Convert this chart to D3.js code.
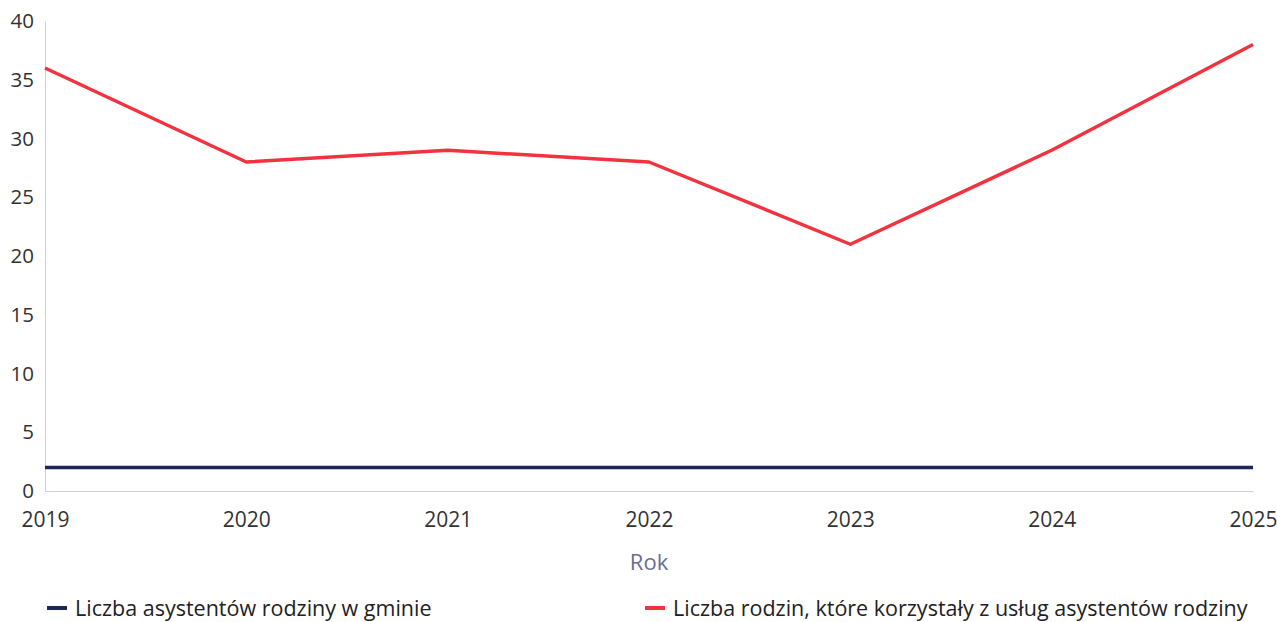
<!DOCTYPE html>
<html><head><meta charset="utf-8">
<script src="https://cdn.jsdelivr.net/npm/d3@7"></script>
<style>body{margin:0;background:#fff;} text{font-family:"Open Sans",sans-serif;}</style>
</head><body>
<svg id="c" width="1277" height="622"></svg>
<script>
const years = [2019, 2020, 2021, 2022, 2023, 2024, 2025];
const asystenci = [2, 2, 2, 2, 2, 2, 2];
const rodziny = [36, 28, 29, 28, 21, 29, 38];
const yTicks = [0, 5, 10, 15, 20, 25, 30, 35, 40];
const seriesNames = ["Liczba asystentów rodziny w gminie", "Liczba rodzin, które korzystały z usług asystentów rodziny"];
const seriesColors = ["#1c2857", "#f2333f"];

const svg = d3.select("#c");
const m = {l: 45, r: 24, t: 21, b: 131};
const W = 1277, H = 622;
const x = d3.scaleLinear().domain([2019, 2025]).range([m.l, W - m.r]);
const y = d3.scaleLinear().domain([0, 40]).range([H - m.b, m.t]);

// axes
const yAx = svg.append("g").attr("transform", `translate(${m.l},0)`)
  .call(d3.axisLeft(y).tickValues(yTicks).tickSize(0).tickPadding(11));
yAx.select(".domain").attr("stroke", "#d0d0d0");
yAx.selectAll("text").attr("font-size", 20.5).attr("fill", "#333");

const xAx = svg.append("g").attr("transform", `translate(0,${H - m.b})`)
  .call(d3.axisBottom(x).tickValues(years).tickFormat(d3.format("d")).tickSize(0).tickPadding(21));
xAx.select(".domain").attr("stroke", "#d0d0d0");
xAx.selectAll("text").attr("font-size", 21).attr("fill", "#333");

svg.append("text").attr("x", (m.l + W - m.r) / 2).attr("y", 570)
  .attr("text-anchor", "middle").attr("font-size", 22).attr("fill", "#6a6e98").text("Rok");

const line = d3.line().x((d, i) => x(years[i])).y(d => y(d));
[asystenci, rodziny].forEach((s, k) => {
  svg.append("path").datum(s).attr("d", line).attr("fill", "none")
    .attr("stroke", seriesColors[k]).attr("stroke-width", 3.5).attr("stroke-linejoin", "round");
});

// legend
const legX = [47, 645];
seriesNames.forEach((n, k) => {
  svg.append("rect").attr("x", legX[k]).attr("y", 606).attr("width", 20).attr("height", 4).attr("fill", seriesColors[k]);
  svg.append("text").attr("x", legX[k] + 28).attr("y", 616).attr("font-size", 21.5).attr("fill", "#222").text(n);
});
</script>
</body></html>
